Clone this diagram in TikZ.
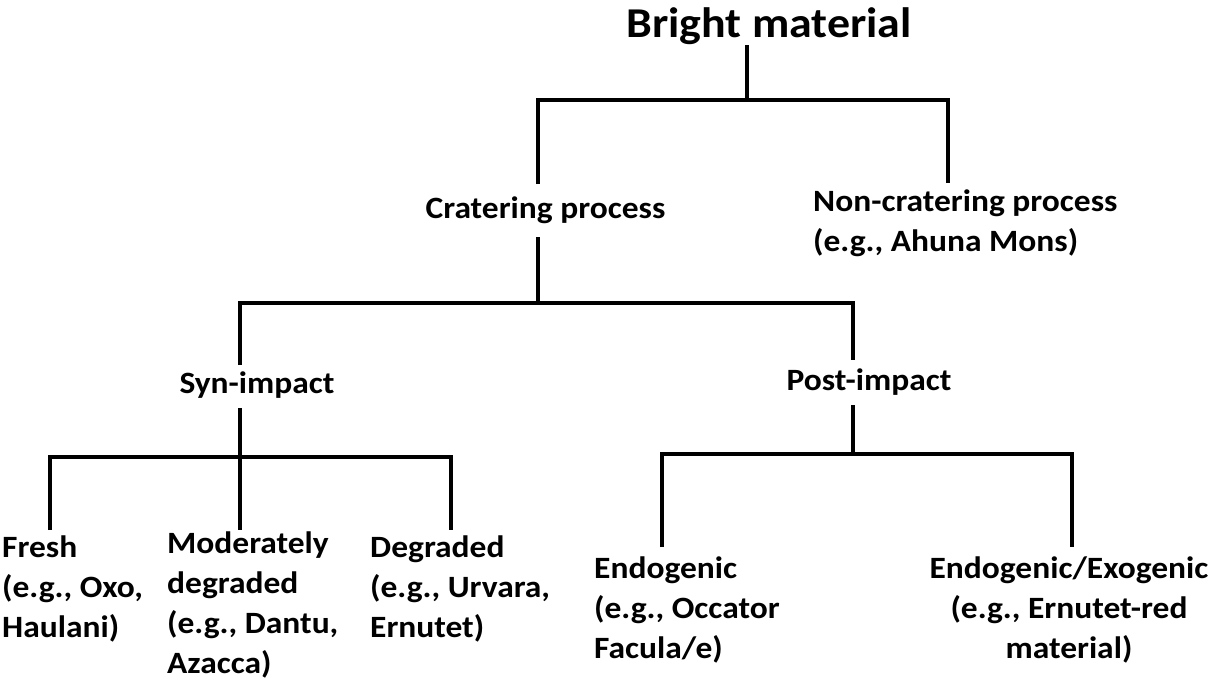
\documentclass[tikz,border=0pt]{standalone}
\usepackage{fontspec}
\setmainfont{Carlito}[FakeStretch=1.08]
\begin{document}
\begin{tikzpicture}[x=1pt,y=-1pt,
  conn/.style={line width=3.5pt, line join=miter, black},
  lbl/.style={font=\bfseries\fontsize{31}{40}\selectfont, inner sep=0pt, align=left},
  lblc/.style={font=\bfseries\fontsize{31}{40}\selectfont, inner sep=0pt, align=center},
  ttl/.style={font=\bfseries\fontsize{42.5}{50}\selectfont, inner sep=0pt}]
\useasboundingbox (0,0) rectangle (1212,681);
% texts (base anchor = baseline of the last line)
\node[ttl, anchor=base] (title) at (769,37) {Bright material};
\node[lbl, anchor=base] (crat) at (545.5,218) {Cratering process};
\node[lbl, anchor=base west] (noncrat) at (813,251) {Non-cratering process\\(e.g., Ahuna Mons)};
\node[lbl, anchor=base] (syn) at (257,393) {Syn-impact};
\node[lbl, anchor=base] (post) at (869,390) {Post-impact};
\node[lbl, anchor=base west] (fresh) at (2,637) {Fresh\\(e.g., Oxo,\\Haulani)};
\node[lbl, anchor=base west] (mod) at (167,673) {Moderately\\degraded\\(e.g., Dantu,\\Azacca)};
\node[lbl, anchor=base west] (deg) at (370,637) {Degraded\\(e.g., Urvara,\\Ernutet)};
\node[lbl, anchor=base west] (endo) at (594,658) {Endogenic\\(e.g., Occator\\Facula/e)};
\node[lblc, anchor=base] (exo) at (1069,658) {Endogenic/Exogenic\\(e.g., Ernutet-red\\material)};
% junction coordinates
\coordinate (titleS) at (747,45);
\coordinate (j1) at (747,100);
\coordinate (cratN) at (538,184);
\coordinate (noncratN) at (948,183);
\coordinate (cratS) at (538,237);
\coordinate (j2) at (538,303);
\coordinate (synN) at (240,365);
\coordinate (postN) at (853,360);
\coordinate (synS) at (240,408);
\coordinate (j3) at (240,457);
\coordinate (freshN) at (50,530);
\coordinate (modN) at (240,530);
\coordinate (degN) at (451,530);
\coordinate (postS) at (853,405);
\coordinate (j4) at (853,454);
\coordinate (endoN) at (662,547);
\coordinate (exoN) at (1072,547);
% connectors
\draw[conn] (titleS) -- (j1);
\draw[conn] (cratN) |- (j1) -| (noncratN);
\draw[conn] (cratS) -- (j2);
\draw[conn] (synN) |- (j2) -| (postN);
\draw[conn] (synS) -- (modN);
\draw[conn] (freshN) |- (j3) -| (degN);
\draw[conn] (postS) -- (j4);
\draw[conn] (endoN) |- (j4) -| (exoN);
\end{tikzpicture}
\end{document}
